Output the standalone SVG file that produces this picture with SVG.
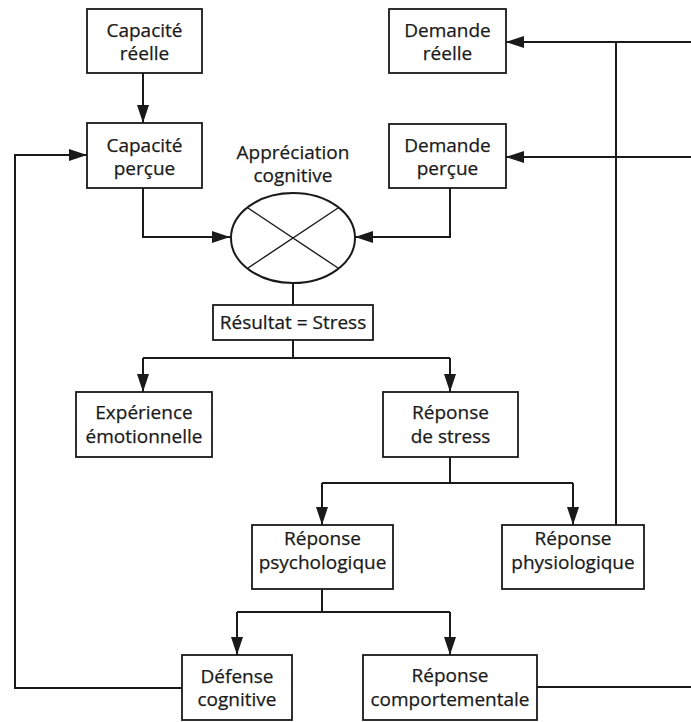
<svg xmlns="http://www.w3.org/2000/svg" width="691" height="722" viewBox="0 0 691 722">
  <defs>
    <marker id="arrow" viewBox="0 0 18 12" refX="18" refY="6" markerWidth="18" markerHeight="12" markerUnits="userSpaceOnUse" orient="auto">
      <path d="M0,0 L18,6 L0,12 Z" fill="#1a1a1a"/>
    </marker>
  </defs>
  <style>
    .box { fill: #ffffff; stroke: #1a1a1a; stroke-width: 1.8; }
    .lbl { font-family: "Open Sans", "Noto Sans", "Liberation Sans", sans-serif; font-size: 19px; fill: #1a1a1a; stroke: #1a1a1a; stroke-width: 0.25; text-anchor: middle; }
    .edge { fill: none; stroke: #1a1a1a; stroke-width: 2; }
    .thin { fill: none; stroke: #1a1a1a; stroke-width: 1.4; }
  </style>
  <rect width="691" height="722" fill="#ffffff"/>

  <!-- connectors -->
  <g id="connectors">
    <path class="edge" d="M143,73 V123" marker-end="url(#arrow)"/>
    <path class="edge" d="M143,188 V237 H230" marker-end="url(#arrow)"/>
    <path class="edge" d="M450,188 V237 H355" marker-end="url(#arrow)"/>
    <path class="edge" d="M293,283 V305"/>
    <path class="edge" d="M293,340 V358"/>
    <path class="edge" d="M143,358 H450"/>
    <path class="edge" d="M143,358 V392" marker-end="url(#arrow)"/>
    <path class="edge" d="M450,358 V392" marker-end="url(#arrow)"/>
    <path class="edge" d="M450,457 V483"/>
    <path class="edge" d="M322,483 H573"/>
    <path class="edge" d="M322,483 V525" marker-end="url(#arrow)"/>
    <path class="edge" d="M573,483 V525" marker-end="url(#arrow)"/>
    <path class="edge" d="M322,589 V612"/>
    <path class="edge" d="M237,612 H450"/>
    <path class="edge" d="M237,612 V655" marker-end="url(#arrow)"/>
    <path class="edge" d="M450,612 V655" marker-end="url(#arrow)"/>
    <!-- feedback: cognitive defence back to perceived capacity -->
    <path class="edge" d="M182,688 H15 V155 H87" marker-end="url(#arrow)"/>
    <!-- feedback: physiological response and behaviour back to demand -->
    <path class="edge" d="M616,525 V42"/>
    <path class="edge" d="M691,42 H506" marker-end="url(#arrow)"/>
    <path class="edge" d="M691,157 H506" marker-end="url(#arrow)"/>
    <path class="edge" d="M537,687 H691"/>
  </g>

  <g id="capacite-reelle">
    <rect class="box" x="87" y="9" width="115" height="64"/>
    <text class="lbl" x="144.5" y="37">Capacité</text>
    <text class="lbl" x="144.5" y="60">réelle</text>
  </g>
  <g id="capacite-percue">
    <rect class="box" x="87" y="123" width="115" height="65"/>
    <text class="lbl" x="144.5" y="152">Capacité</text>
    <text class="lbl" x="144.5" y="175">perçue</text>
  </g>
  <g id="demande-reelle">
    <rect class="box" x="389" y="9" width="117" height="64"/>
    <text class="lbl" x="447.5" y="37">Demande</text>
    <text class="lbl" x="447.5" y="60">réelle</text>
  </g>
  <g id="demande-percue">
    <rect class="box" x="389" y="124" width="117" height="64"/>
    <text class="lbl" x="447.5" y="152">Demande</text>
    <text class="lbl" x="447.5" y="175">perçue</text>
  </g>
  <g id="appreciation">
    <text class="lbl" x="293" y="159">Appréciation</text>
    <text class="lbl" x="293" y="182">cognitive</text>
    <ellipse cx="293" cy="238" rx="62" ry="45" fill="#ffffff" stroke="#1a1a1a" stroke-width="2"/>
    <path class="thin" d="M248,208 L338,268 M248,268 L338,208"/>
  </g>
  <g id="resultat">
    <rect class="box" x="213" y="305" width="160" height="35"/>
    <text class="lbl" x="293" y="329">Résultat = Stress</text>
  </g>
  <g id="experience">
    <rect class="box" x="76" y="392" width="136" height="65"/>
    <text class="lbl" x="144" y="419">Expérience</text>
    <text class="lbl" x="144" y="443">émotionnelle</text>
  </g>
  <g id="reponse-stress">
    <rect class="box" x="383" y="392" width="135" height="65"/>
    <text class="lbl" x="450.5" y="419">Réponse</text>
    <text class="lbl" x="450.5" y="443">de stress</text>
  </g>
  <g id="reponse-psychologique">
    <rect class="box" x="252" y="525" width="141" height="64"/>
    <text class="lbl" x="322.5" y="545">Réponse</text>
    <text class="lbl" x="322.5" y="569">psychologique</text>
  </g>
  <g id="reponse-physiologique">
    <rect class="box" x="502" y="525" width="142" height="64"/>
    <text class="lbl" x="573" y="545">Réponse</text>
    <text class="lbl" x="573" y="569">physiologique</text>
  </g>
  <g id="defense-cognitive">
    <rect class="box" x="182" y="655" width="110" height="65"/>
    <text class="lbl" x="237" y="683">Défense</text>
    <text class="lbl" x="237" y="706">cognitive</text>
  </g>
  <g id="reponse-comportementale">
    <rect class="box" x="363" y="655" width="174" height="65"/>
    <text class="lbl" x="450" y="682">Réponse</text>
    <text class="lbl" x="450" y="706">comportementale</text>
  </g>
</svg>
